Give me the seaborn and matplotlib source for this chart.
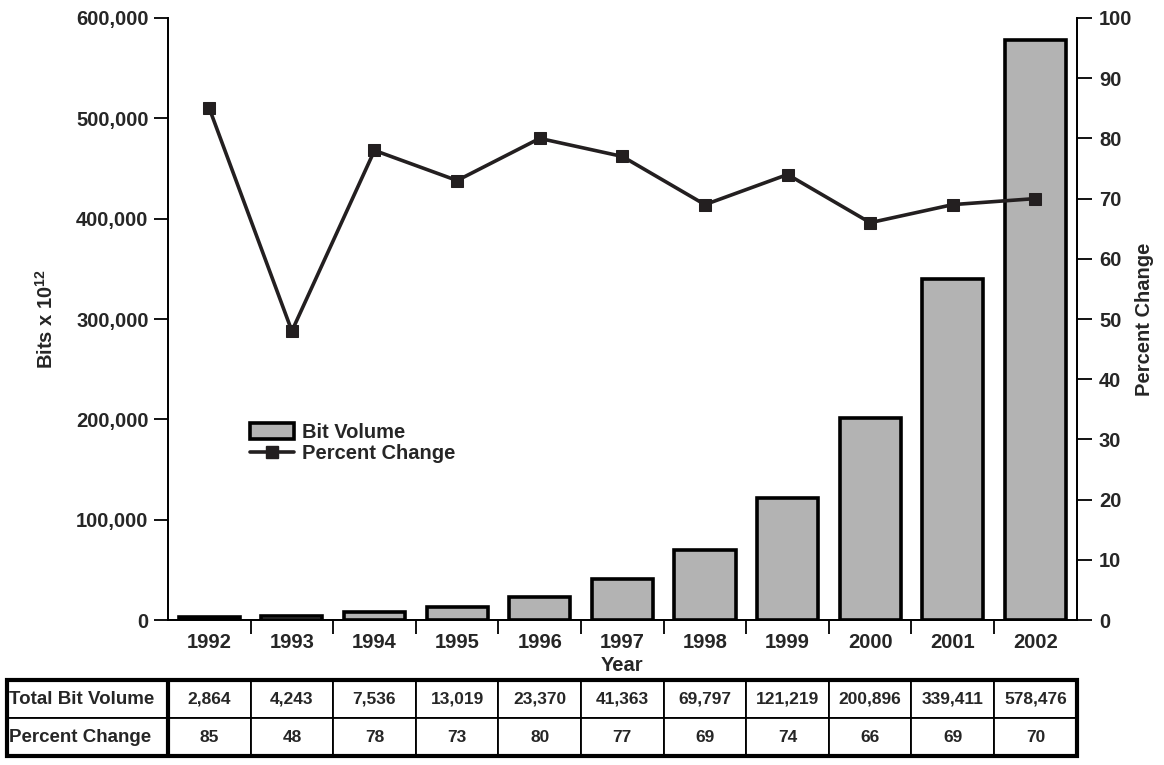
import numpy as np
import pandas as pd
import matplotlib
matplotlib.use('Agg')
import matplotlib.pyplot as plt
from matplotlib.patches import Patch, Rectangle
from matplotlib.lines import Line2D
from matplotlib.ticker import FuncFormatter, FixedLocator
import seaborn as sns

sns.set_style("ticks")
plt.rcParams['font.family'] = ['Liberation Sans', 'DejaVu Sans']
plt.rcParams['font.weight'] = 'bold'
plt.rcParams['mathtext.fontset'] = 'custom'
plt.rcParams['mathtext.bf'] = 'Liberation Sans:bold'
plt.rcParams['mathtext.rm'] = 'Liberation Sans:bold'
plt.rcParams['mathtext.default'] = 'bf'

# ---- data ----
years = ['1992', '1993', '1994', '1995', '1996', '1997', '1998', '1999', '2000', '2001', '2002']
bit_volume = [2864, 4243, 7536, 13019, 23370, 41363, 69797, 121219, 200896, 339411, 578476]
pct_change = [85, 48, 78, 73, 80, 77, 69, 74, 66, 69, 70]

df = pd.DataFrame({'year': years, 'volume': bit_volume, 'pct': pct_change})

BAR_COLOR = '#b3b3b3'
INK = '#231f20'
FS = 14.5

fig = plt.figure(figsize=(11.64, 7.65), dpi=100)
ax = fig.add_axes([0.1443, 0.1895, 0.7807, 0.787])

sns.barplot(data=df, x='year', y='volume', ax=ax, color=BAR_COLOR, width=0.74,
            edgecolor='black', linewidth=2.6, saturation=1)
for p in ax.patches:
    p.set_facecolor(BAR_COLOR)

ax.set_xlim(-0.5, len(years) - 0.5)
ax.set_ylim(0, 600000)
ax.set_yticks(np.arange(0, 600001, 100000))
ax.yaxis.set_major_formatter(FuncFormatter(lambda v, _: f'{int(v):,}'))
ax.set_ylabel(r'Bits x 10$^{12}$', fontsize=FS, fontweight='bold', labelpad=14)
ax.set_xlabel('Year', fontsize=FS, fontweight='bold', labelpad=3)

# labels at category centres, tick marks at the boundaries
ax.tick_params(axis='x', which='major', length=0, labelsize=FS, pad=9)
ax.xaxis.set_minor_locator(FixedLocator(np.arange(0.5, len(years) - 1, 1)))
ax.tick_params(axis='x', which='minor', length=10, width=1.3, color='black', direction='out')
ax.tick_params(axis='y', length=10, width=1.3, color='black', labelsize=FS, direction='out', pad=4)

ax2 = ax.twinx()
sns.lineplot(x=np.arange(len(years)), y=df['pct'], ax=ax2, color=INK, lw=2.6,
             marker='s', markersize=8, markeredgecolor=INK, markerfacecolor=INK)
ax2.set_ylim(0, 100)
ax2.set_yticks(np.arange(0, 101, 10))
ax2.set_ylabel('Percent Change', fontsize=FS, fontweight='bold', labelpad=2)
ax2.tick_params(axis='y', length=11, width=1.3, color='black', labelsize=FS, direction='out', pad=5)

for a in (ax, ax2):
    a.spines['top'].set_visible(False)
    for s in ('left', 'right', 'bottom'):
        a.spines[s].set_linewidth(1.3)
        a.spines[s].set_color('black')
    for lab in a.get_yticklabels() + a.get_xticklabels():
        lab.set_fontweight('bold')

handles = [Patch(facecolor=BAR_COLOR, edgecolor='black', linewidth=2.6),
           Line2D([0], [0], color=INK, lw=2.6, marker='s', markersize=8)]
ax2.legend(handles, ['Bit Volume', 'Percent Change'], loc='upper left',
           bbox_to_anchor=(0.0705, 0.358), frameon=False,
           handlelength=2.2, handleheight=0.9, labelspacing=0.1, handletextpad=0.35,
           prop={'weight': 'bold', 'size': FS})

# ---- data table underneath ----
ax_w_px = 0.7807 * 1164
first_w = 161 / ax_w_px
col_w = 1.0 / len(years)
cell_text = [[f'{v:,}' for v in bit_volume], [str(v) for v in pct_change]]
row_labels = ['Total Bit Volume', 'Percent Change']
full_text = [[row_labels[i]] + cell_text[i] for i in range(2)]
tbl_box = [-first_w, -0.226, 1.0 + first_w, 0.126]
tbl = ax.table(cellText=full_text, cellLoc='center',
               colWidths=[first_w] + [col_w] * len(years),
               bbox=tbl_box)
tbl.auto_set_font_size(False)
for (r, c), cell in tbl.get_celld().items():
    cell.set_linewidth(1.3)
    cell.set_edgecolor('black')
    cell.get_text().set_fontweight('bold')
    if c == 0:
        cell.get_text().set_fontsize(13.5)
        cell.get_text().set_ha('left')
        cell.PAD = 0.012
    else:
        cell.get_text().set_fontsize(12.5)

# heavier outer frame and separator after the label column
ax.add_patch(Rectangle((tbl_box[0], tbl_box[1]), tbl_box[2], tbl_box[3], transform=ax.transAxes,
                       fill=False, edgecolor='black', linewidth=3.0, clip_on=False, zorder=5))
ax.add_line(Line2D([0, 0], [tbl_box[1], tbl_box[1] + tbl_box[3]], transform=ax.transAxes,
                   color='black', linewidth=3.0, clip_on=False, zorder=5))

fig.savefig('out.png', dpi=100)
